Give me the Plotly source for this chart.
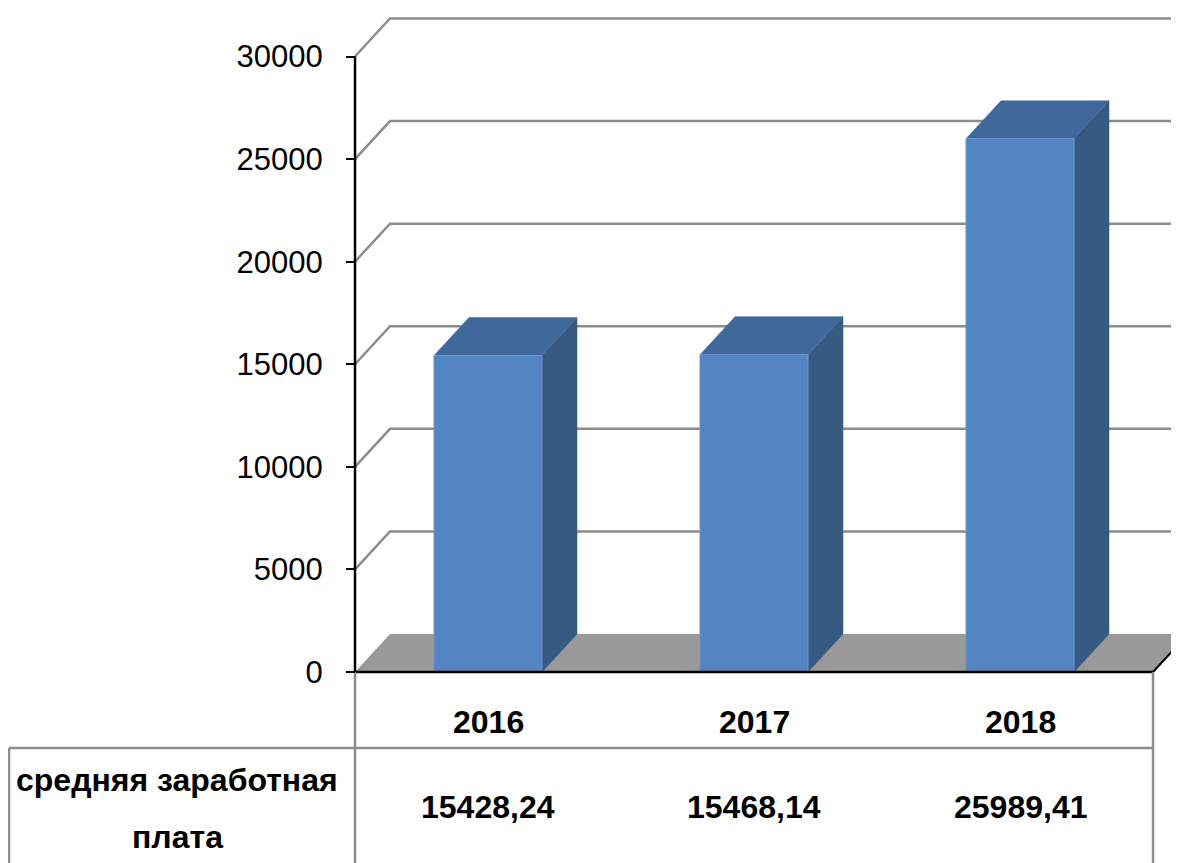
import plotly.graph_objects as go

# ---------------- data ----------------
years = ["2016", "2017", "2018"]
wages = [15428.24, 15468.14, 25989.41]
wage_labels = ["15428,24", "15468,14", "25989,41"]
row_label_lines = ["средняя заработная", "плата"]
y_ticks = [0, 5000, 10000, 15000, 20000, 25000, 30000]

# ---------------- layout constants (screen pixels) ----------------
OFF = 8                                   # page body margin
W, H = 1179 - OFF, 863 - OFF
AX_LEFT_PX, AX_RIGHT_PX = 355, 1153       # front floor edge
ZERO_PX, TOP_PX = 672, 56.5               # y pixel of 0 and 30000
X_SCALE = (AX_RIGHT_PX - AX_LEFT_PX) / len(years)   # px per category
Y_SCALE = (ZERO_PX - TOP_PX) / 30000                # px per unit
X0 = -0.5 - (AX_LEFT_PX - OFF) / X_SCALE
X1 = X0 + W / X_SCALE
Y_TOP = (ZERO_PX - OFF) / Y_SCALE
Y_BOT = -(H - (ZERO_PX - OFF)) / Y_SCALE


def px2x(px):
    return X0 + (px - OFF) / X_SCALE


def px2y(py):
    return (ZERO_PX - py) / Y_SCALE


DX = 35 / X_SCALE        # depth offset (x)
DY = 38 / Y_SCALE        # depth offset (y)
HW = 54 / X_SCALE        # half bar width

FONT = "Liberation Sans, Arial, sans-serif"
GRID = "#8c8c8c"
FRONT, TOP, SIDE = "#5285C2", "#41689A", "#365A82"
FLOOR = "#999999"
N = len(years)

fig = go.Figure()

# back-wall gridlines
for v in y_ticks[1:]:
    fig.add_trace(go.Scatter(
        x=[-0.5, -0.5 + DX, X1], y=[v, v + DY, v + DY], mode="lines",
        line=dict(color=GRID, width=2.5), hoverinfo="skip", showlegend=False))

# floor
fig.add_trace(go.Scatter(
    x=[-0.5, N - 0.5, N - 0.5 + DX, -0.5 + DX, -0.5],
    y=[0, 0, DY, DY, 0], mode="lines", fill="toself", fillcolor=FLOOR,
    line=dict(color=FLOOR, width=0), hoverinfo="skip", showlegend=False))
fig.add_trace(go.Scatter(
    x=[N - 0.5, N - 0.5 + DX], y=[0, DY], mode="lines",
    line=dict(color="black", width=2), hoverinfo="skip", showlegend=False))

# 3D bars
for i, v in enumerate(wages):
    l, r = i - HW, i + HW
    fig.add_trace(go.Scatter(
        x=[r, r + DX, r + DX, r, r], y=[0, DY, v + DY, v, 0],
        mode="lines", fill="toself", fillcolor=SIDE, line=dict(color=SIDE, width=0.5),
        hoverinfo="skip", showlegend=False))
    fig.add_trace(go.Scatter(
        x=[l, r, r + DX, l + DX, l], y=[v, v, v + DY, v + DY, v],
        mode="lines", fill="toself", fillcolor=TOP, line=dict(color=TOP, width=0.5),
        hoverinfo="skip", showlegend=False))
    fig.add_trace(go.Scatter(
        x=[l, r, r, l, l], y=[0, 0, v, v, 0],
        mode="lines", fill="toself", fillcolor=FRONT, line=dict(color="#6b98cf", width=1),
        name=years[i], hovertemplate="%{text}<extra></extra>",
        text=[wage_labels[i]] * 5, showlegend=False))

# axis lines
fig.add_trace(go.Scatter(
    x=[-0.5, -0.5], y=[0, y_ticks[-1]], mode="lines",
    line=dict(color="black", width=2.5), hoverinfo="skip", showlegend=False))
fig.add_trace(go.Scatter(
    x=[-0.5, N - 0.5], y=[0, 0], mode="lines",
    line=dict(color="black", width=2.5), hoverinfo="skip", showlegend=False))

# data table borders
TBL_ROW = px2y(748)
TBL_LEFT = px2x(9)
for xs, ys in [
    ([-0.5, -0.5], [0, Y_BOT]),
    ([N - 0.5, N - 0.5], [0, Y_BOT]),
    ([TBL_LEFT, N - 0.5], [TBL_ROW, TBL_ROW]),
    ([TBL_LEFT, TBL_LEFT], [TBL_ROW, Y_BOT]),
]:
    fig.add_trace(go.Scatter(
        x=xs, y=ys, mode="lines", line=dict(color=GRID, width=2.5),
        hoverinfo="skip", showlegend=False))

# table text
TFONT = dict(family=FONT, size=32, color="black", weight="bold")
annotations = []
for i, (yr, lab) in enumerate(zip(years, wage_labels)):
    annotations.append(dict(x=i, y=px2y(722), xref="x", yref="y", text=yr,
                            showarrow=False, font=TFONT))
    annotations.append(dict(x=i, y=px2y(807), xref="x", yref="y", text=lab,
                            showarrow=False, font=TFONT))
for k, line in enumerate(row_label_lines):
    annotations.append(dict(x=px2x(177), y=px2y(780 + 57 * k), xref="x", yref="y",
                            text=line, showarrow=False, font=TFONT))

fig.update_layout(
    width=W, height=H, autosize=False,
    margin=dict(l=0, r=0, t=0, b=0),
    paper_bgcolor="white", plot_bgcolor="white",
    showlegend=False,
    annotations=annotations,
    xaxis=dict(range=[X0, X1], visible=False, fixedrange=True),
    yaxis=dict(range=[Y_BOT, Y_TOP], anchor="free", position=(AX_LEFT_PX - OFF) / W,
               tickvals=y_ticks, ticktext=[str(t) for t in y_ticks],
               ticks="outside", ticklen=9, tickwidth=2, tickcolor="black",
               ticklabelstandoff=17,
               showgrid=False, zeroline=False, showline=False, fixedrange=True,
               tickfont=dict(family=FONT, size=31, color="black")),
)

fig.write_html("out.html")
